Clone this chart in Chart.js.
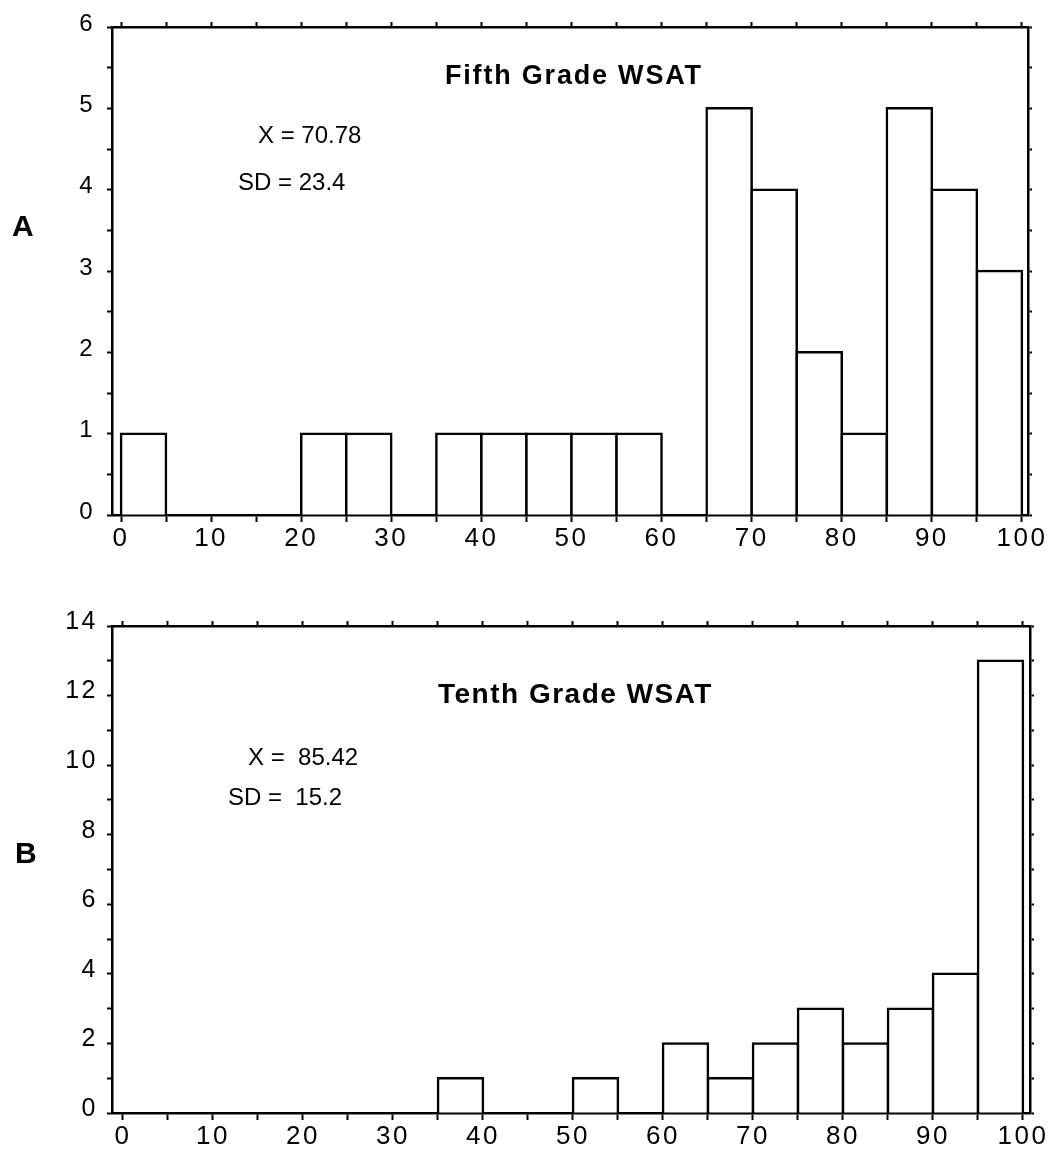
<!DOCTYPE html>
<html>
<head>
<meta charset="utf-8">
<script src="https://cdn.jsdelivr.net/npm/chart.js@4"></script>
<style>
  html, body { margin:0; padding:0; background:#fff; }
  body { width:1055px; height:1154px; position:relative; overflow:hidden; font-family:"Liberation Sans", Arial, sans-serif; color:#000; }
  canvas { position:absolute; left:0; }
  .t { position:absolute; white-space:pre; line-height:1; }
  .b { font-weight:bold; }
</style>
</head>
<body>
<canvas id="cA" width="1055" height="560" style="top:0px"></canvas>
<canvas id="cB" width="1055" height="584" style="top:570px"></canvas>

<div class="t b" style="left:12px; top:211px; font-size:30px;">A</div>
<div class="t b" style="left:445px; top:62px; font-size:27px; letter-spacing:1.8px;">Fifth Grade WSAT</div>
<div class="t" style="left:258px; top:123px; font-size:24px;">X = 70.78</div>
<div class="t" style="left:238px; top:170px; font-size:24px;">SD = 23.4</div>

<div class="t b" style="left:15px; top:838px; font-size:30px;">B</div>
<div class="t b" style="left:438px; top:680px; font-size:28px; letter-spacing:1.5px;">Tenth Grade WSAT</div>
<div class="t" style="left:248px; top:745px; font-size:24px;">X =  85.42</div>
<div class="t" style="left:228px; top:785px; font-size:24px;">SD =  15.2</div>

<script>
// ---- data ----
const binStarts   = [0,5,10,15,20,25,30,35,40,45,50,55,60,65,70,75,80,85,90,95];
const binWidth    = 5;
const fifthCounts = [1,0,0,0,1,1,0,1,1,1,1,1,0,5,4,2,1,5,4,3];
const tenthCounts = [0,0,0,0,0,0,0,1,0,0,1,0,2,1,2,3,2,3,4,13];
const xTickMarks  = [0,5,10,15,20,25,30,35,40,45,50,55,60,65,70,75,80,85,90,95,100];
const xTickLabels = [0,10,20,30,40,50,60,70,80,90,100];
const fifthYMarks  = [0,0.5,1,1.5,2,2.5,3,3.5,4,4.5,5,5.5,6];
const fifthYLabels = [0,1,2,3,4,5,6];
const tenthYMarks  = [0,1,2,3,4,5,6,7,8,9,10,11,12,13,14];
const tenthYLabels = [0,2,4,6,8,10,12,14];

const FONT = '"Liberation Sans", Arial, sans-serif';

const spacingPlugin = {
  id: 'spacing',
  beforeDraw(chart) { try { chart.ctx.letterSpacing = '2.5px'; } catch(e) {} }
};

function makeChart(canvas, counts, yMarks, yLabels, g) {
  const W = canvas.width, H = canvas.height;
  const data = binStarts.map((s, i) => ({ x: s + binWidth / 2, y: counts[i] }));
  const axisGrid = (len) => ({ drawOnChartArea:false, drawTicks:true, tickLength:len, color:'#000', tickWidth:2, offset:false });
  const border = { display:true, color:'#000', width:2.5 };
  return new Chart(canvas, {
    type: 'bar',
    data: { datasets: [{
      data,
      backgroundColor: '#fff',
      borderColor: '#000',
      borderWidth: 2.5,
      inflateAmount: 1.25,
      barPercentage: 1,
      categoryPercentage: 1
    }]},
    plugins: [spacingPlugin],
    options: {
      responsive: false,
      animation: false,
      devicePixelRatio: 1,
      layout: { padding: 0 },
      plugins: { legend: { display:false }, tooltip: { enabled:false }, title: { display:false } },
      events: [],
      scales: {
        x: {
          type: 'linear', position: 'bottom', min: g.xmin, max: g.xmax, offset: false, z: 1,
          grid: axisGrid(7), border,
          ticks: { font: { family: FONT, size: 26 }, color: '#000', padding: 1, maxRotation: 0, autoSkip: false,
                   callback: (v) => xTickLabels.includes(v) ? String(v) : '' },
          afterBuildTicks: (s) => { s.ticks = xTickMarks.map(v => ({ value: v })); },
          afterFit: (s) => { s.height = H - g.bottom; }
        },
        xTop: {
          type: 'linear', position: 'top', axis: 'x', min: g.xmin, max: g.xmax, offset: false, z: 1,
          grid: axisGrid(5), border,
          ticks: { display: false },
          afterBuildTicks: (s) => { s.ticks = xTickMarks.map(v => ({ value: v })); },
          afterFit: (s) => { s.height = g.top; }
        },
        y: {
          type: 'linear', position: 'left', min: 0, max: yMarks[yMarks.length - 1], z: 1,
          grid: axisGrid(5), border,
          ticks: { font: { family: FONT, size: g.yFont }, color: '#000', padding: g.yPad, labelOffset: g.labelOffset, autoSkip: false,
                   callback: (v) => yLabels.includes(v) ? String(v) : '' },
          afterBuildTicks: (s) => { s.ticks = yMarks.map(v => ({ value: v })); },
          afterFit: (s) => { s.width = g.left; }
        },
        yRight: {
          type: 'linear', position: 'right', axis: 'y', min: 0, max: yMarks[yMarks.length - 1], z: 1,
          grid: axisGrid(4), border,
          ticks: { display: false },
          afterBuildTicks: (s) => { s.ticks = yMarks.map(v => ({ value: v })); },
          afterFit: (s) => { s.width = W - g.right; }
        }
      }
    }
  });
}

makeChart(document.getElementById('cA'), fifthCounts, fifthYMarks, fifthYLabels,
  { top: 27, bottom: 515, left: 112, right: 1028, xmin: -1.0, xmax: 100.67, yFont: 24, yPad: 12, labelOffset: -3 });

makeChart(document.getElementById('cB'), tenthCounts, tenthYMarks, tenthYLabels,
  { top: 56, bottom: 543, left: 112, right: 1030, xmin: -1.22, xmax: 100.78, yFont: 25, yPad: 9, labelOffset: -4 });
</script>
</body>
</html>
